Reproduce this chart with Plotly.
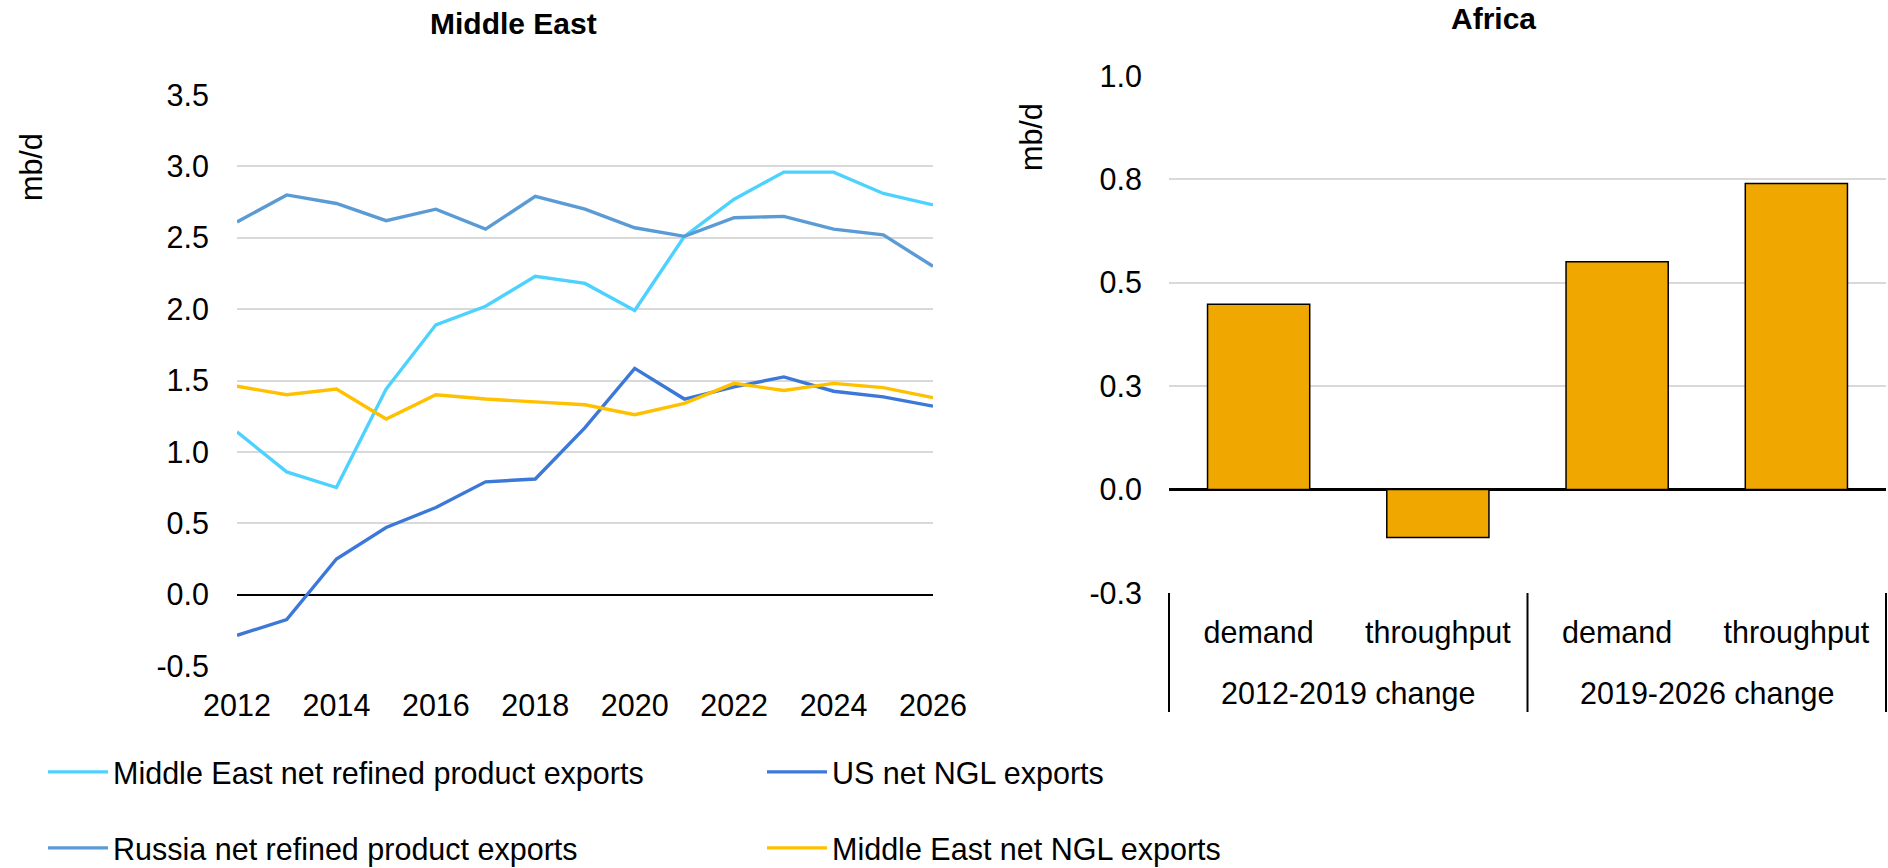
import plotly.graph_objects as go

# ---- Middle East panel: annual series (mb/d) ----
years = list(range(2012, 2027))
me_refined = [1.14, 0.86, 0.75, 1.44, 1.89, 2.02, 2.23, 2.18, 1.99, 2.51, 2.77, 2.96, 2.96, 2.81, 2.73]
russia_refined = [2.61, 2.80, 2.74, 2.62, 2.70, 2.56, 2.79, 2.70, 2.57, 2.51, 2.64, 2.65, 2.56, 2.52, 2.30]
us_ngl = [-0.285, -0.175, 0.25, 0.47, 0.61, 0.79, 0.81, 1.17, 1.585, 1.37, 1.455, 1.525, 1.425, 1.385, 1.32]
me_ngl = [1.46, 1.40, 1.44, 1.23, 1.40, 1.37, 1.35, 1.33, 1.26, 1.34, 1.48, 1.43, 1.48, 1.45, 1.38]
left_ticks = [-0.5, 0.0, 0.5, 1.0, 1.5, 2.0, 2.5, 3.0, 3.5]

# ---- Africa panel: change in demand vs throughput (mb/d) ----
period_groups = ["2012-2019 change", "2019-2026 change"]
periods = ["2012-2019 change", "2012-2019 change", "2019-2026 change", "2019-2026 change"]
measures = ["demand", "throughput", "demand", "throughput"]
africa_change = [0.448, -0.116, 0.551, 0.740]
right_ticks = [-0.25, 0.0, 0.25, 0.5, 0.75, 1.0]

FONT = "Liberation Sans, Arial, sans-serif"
FS = 30.5
GRID = "#d9d9d9"
H = 868.0
W = 1888.0


def fmt(v):
    # one decimal, plain hyphen for negatives, half-up rounding
    s = f"{abs(v) + 1e-9:.1f}"
    return ("-" if v < 0 else "") + s


fig = go.Figure()

line_specs = [
    ("Middle East net refined product exports", me_refined, "#4dd2ff", "legend"),
    ("US net NGL exports", us_ngl, "#3c78d8", "legend"),
    ("Russia net refined product exports", russia_refined, "#5b9bd5", "legend2"),
    ("Middle East net NGL exports", me_ngl, "#ffc000", "legend2"),
]
for name, vals, color, leg in line_specs:
    fig.add_trace(go.Scatter(
        x=years, y=vals, name=name, mode="lines",
        line=dict(color=color, width=3.4),
        xaxis="x", yaxis="y", legend=leg,
    ))

# bar categories: one slot per (period, measure) pair, labelled by measure
bar_keys = [f"{p} | {m}" for p, m in zip(periods, measures)]
fig.add_trace(go.Bar(
    x=bar_keys, y=africa_change,
    marker=dict(color="#f0a800", line=dict(color="#000000", width=1.5)),
    width=0.57, showlegend=False, xaxis="x2", yaxis="y2",
))

# group separators and group labels under the Africa axis
shapes = []
for xd in (0.0, 0.5, 1.0):
    shapes.append(dict(type="line", xref="x2 domain", yref="paper",
                       x0=xd, x1=xd, y0=1 - 593 / H, y1=1 - 712 / H,
                       line=dict(color="#000000", width=2)))

annotations = [
    dict(text="<b>Middle East</b>", x=513 / W, y=1 - 24 / H, xref="paper", yref="paper",
         showarrow=False, font=dict(size=30), xanchor="center", yanchor="middle"),
    dict(text="<b>Africa</b>", x=1493 / W, y=1.0, xref="paper", yref="paper",
         showarrow=False, font=dict(size=30), xanchor="center", yanchor="top"),
    dict(text="mb/d", x=31 / W, y=1 - 167 / H, xref="paper", yref="paper",
         showarrow=False, textangle=-90, font=dict(size=FS), xanchor="center", yanchor="middle"),
    dict(text="mb/d", x=1031 / W, y=1 - 137 / H, xref="paper", yref="paper",
         showarrow=False, textangle=-90, font=dict(size=FS), xanchor="center", yanchor="middle"),
]
for i, g in enumerate(period_groups):
    annotations.append(dict(text=g, x=0.25 + 0.5 * i, y=1 - 693 / H, xref="x2 domain", yref="paper",
                            showarrow=False, font=dict(size=FS), xanchor="center", yanchor="middle"))

fig.update_layout(
    width=1888, height=868,
    margin=dict(l=0, r=0, t=0, b=0, autoexpand=False),
    paper_bgcolor="white", plot_bgcolor="white",
    font=dict(family=FONT, size=FS, color="#000000"),
    xaxis=dict(
        domain=[237 / W, 933 / W], anchor="y",
        range=[2012, 2026], tickmode="array", tickvals=years[::2],
        showgrid=False, showline=False, zeroline=False,
        ticks="", ticklabelstandoff=18,
    ),
    yaxis=dict(
        domain=[1 - 666 / H, 1 - 95 / H], anchor="x",
        range=[-0.5, 3.5], tickmode="array", tickvals=left_ticks,
        ticktext=[fmt(v) for v in left_ticks],
        showgrid=True, gridcolor=GRID, gridwidth=2,
        zeroline=True, zerolinecolor="#000000", zerolinewidth=2,
        showline=False, ticks="", ticklabelstandoff=27,
    ),
    xaxis2=dict(
        domain=[1169 / W, 1886 / W], anchor="y2",
        type="category", tickmode="array", tickvals=bar_keys, ticktext=measures,
        showgrid=False, showline=False, zeroline=False, ticks="",
        ticklabelstandoff=18,
    ),
    yaxis2=dict(
        domain=[1 - 593 / H, 1 - 76 / H], anchor="x2",
        range=[-0.25, 1.0], tickmode="array", tickvals=right_ticks,
        ticktext=[fmt(v) for v in right_ticks],
        showgrid=True, gridcolor=GRID, gridwidth=2,
        zeroline=True, zerolinecolor="#000000", zerolinewidth=2.5,
        showline=False, ticks="", ticklabelstandoff=26,
    ),
    legend=dict(
        orientation="h", x=43 / W, y=1 - 772 / H, xanchor="left", yanchor="middle",
        entrywidth=644, entrywidthmode="pixels", itemwidth=60,
        font=dict(size=FS), bgcolor="rgba(0,0,0,0)",
    ),
    legend2=dict(
        orientation="h", x=43 / W, y=1 - 848 / H, xanchor="left", yanchor="middle",
        entrywidth=644, entrywidthmode="pixels", itemwidth=60,
        font=dict(size=FS), bgcolor="rgba(0,0,0,0)",
    ),
    shapes=shapes,
    annotations=annotations,
)

fig.write_html("out.html")
